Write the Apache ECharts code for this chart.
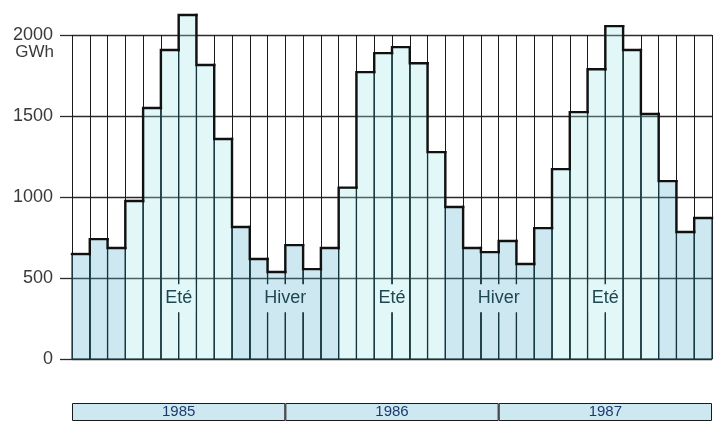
<!DOCTYPE html>
<html>
<head>
<meta charset="utf-8">
<script src="https://cdn.jsdelivr.net/npm/echarts@6/dist/echarts.min.js"></script>
<style>
html, body { margin: 0; padding: 0; background: #fff; }
#chart { width: 724px; height: 422px; }
</style>
</head>
<body>
<div id="chart"></div>
<script>
// monthly production, GWh, Jan 1985 .. Dec 1987
var months = []
for (var m = 0; m < 36; m++) months.push('m' + m)
var production = [
  648, 740, 685, 975, 1549, 1907, 2123, 1815, 1358, 815, 617, 537,
  703, 555, 685, 1058, 1771, 1888, 1925, 1826, 1277, 938, 685, 660,
  728, 586, 808, 1172, 1524, 1789, 2055, 1907, 1512, 1098, 784, 870
]
var yTicks = [0, 500, 1000, 1500, 2000]
var years = ['1985', '1986', '1987']
var seasonNames = ['Eté', 'Hiver', 'Eté', 'Hiver', 'Eté']
var seasonCenters = [5.5, 11.5, 17.5, 23.5, 29.5]

// fills are see-through so the grid lines show inside the bars
var summerFill = 'rgba(155,228,232,0.3)'
var winterFill = 'rgba(88,178,205,0.3)'
var summerSolid = '#e1f7f8'
var winterSolid = '#cde8f0'

function isSummer (i) {
  var mm = i % 12
  return mm >= 3 && mm <= 8
}

var fillData = production.map(function (v, i) { return [i, v] })
var stepData = production.map(function (v, i) { return [i, v, i > 0 ? production[i - 1] : v] })
var seasonData = seasonNames.map(function (s, k) { return [seasonCenters[k], 375, s] })

var chart = echarts.init(document.getElementById('chart'))
var option = {
  animation: false,
  grid: [
    { left: 72, right: 12, top: 35, bottom: 63 },
    { left: 72, right: 12, top: 403, height: 18 }
  ],
  xAxis: [
    {
      type: 'category', gridIndex: 0, data: months, boundaryGap: true,
      axisLine: { show: false }, axisTick: { show: false }, axisLabel: { show: false },
      splitLine: { show: true, interval: 0, lineStyle: { color: '#1a1a1a', width: 1 } }
    },
    {
      type: 'category', gridIndex: 1, data: years,
      axisLine: { show: false }, axisTick: { show: false }, axisLabel: { show: false }
    }
  ],
  yAxis: [
    {
      type: 'value', gridIndex: 0, min: 0, max: 2000, interval: 500,
      axisLine: { show: false },
      axisTick: { show: true, length: 12, lineStyle: { color: '#2a2a2a', width: 1.3 } },
      axisLabel: {
        margin: 19, fontSize: 18, color: '#3a3a3a', fontFamily: 'Liberation Sans',
        formatter: function (v) { return yTicks.indexOf(v) >= 0 ? String(v) : '' }
      },
      splitLine: { show: true, lineStyle: { color: '#2a2a2a', width: 1.3 } }
    },
    { type: 'value', gridIndex: 1, min: 0, max: 1, show: false }
  ],
  graphic: [
    {
      type: 'text', x: 54, y: 52,
      style: { text: 'GWh', fill: '#3a3a3a', fontSize: 17, fontFamily: 'Liberation Sans', align: 'right', verticalAlign: 'middle' }
    }
  ],
  series: [
    {
      type: 'custom', xAxisIndex: 0, yAxisIndex: 0, data: fillData, z: 2,
      renderItem: function (params, api) {
        var i = api.value(0)
        var top = api.coord([i, api.value(1)])
        var base = api.coord([i, 0])
        var w = api.size([1, 0])[0]
        return {
          type: 'rect',
          shape: { x: top[0] - w / 2, y: top[1], width: w, height: base[1] - top[1] },
          style: { fill: isSummer(i) ? summerFill : winterFill, stroke: '#15353c', lineWidth: 1.2 }
        }
      }
    },
    {
      type: 'custom', xAxisIndex: 0, yAxisIndex: 0, data: seasonData, z: 3,
      renderItem: function (params, api) {
        var c = api.value(0)
        var i0 = Math.floor(c)
        var p = api.coord([i0, api.value(1)])
        var w = api.size([1, 0])[0]
        var s = seasonData[params.dataIndex][2]
        return {
          type: 'text',
          x: p[0] + (c - i0) * w, y: p[1],
          style: {
            text: s, fill: '#1d4852', fontSize: 18, fontFamily: 'Liberation Sans',
            align: 'center', verticalAlign: 'middle',
            backgroundColor: s === 'Eté' ? summerSolid : winterSolid, padding: [5, 3, 5, 3]
          }
        }
      }
    },
    {
      type: 'custom', xAxisIndex: 0, yAxisIndex: 0, data: stepData, z: 4,
      renderItem: function (params, api) {
        var i = api.value(0)
        var top = api.coord([i, api.value(1)])
        var prev = api.coord([i, api.value(2)])
        var w = api.size([1, 0])[0]
        var l = top[0] - w / 2
        var r = top[0] + w / 2
        var pts = i > 0 ? [[l, prev[1]], [l, top[1]], [r, top[1]]] : [[l, top[1]], [r, top[1]]]
        return {
          type: 'polyline',
          shape: { points: pts },
          style: { stroke: '#111', lineWidth: 2.4, fill: null, lineJoin: 'miter', lineCap: 'square' }
        }
      }
    },
    {
      type: 'bar', xAxisIndex: 1, yAxisIndex: 1,
      data: [1, 1, 1], barWidth: '100%', barCategoryGap: 0,
      itemStyle: { color: '#cde8f1', borderColor: '#1a1a1a', borderWidth: 1 },
      label: {
        show: true, position: 'inside', color: '#1d3a6e', fontSize: 15,
        fontFamily: 'Liberation Sans',
        formatter: function (p) { return years[p.dataIndex] }
      }
    }
  ]
}
chart.setOption(option)
</script>
</body>
</html>
